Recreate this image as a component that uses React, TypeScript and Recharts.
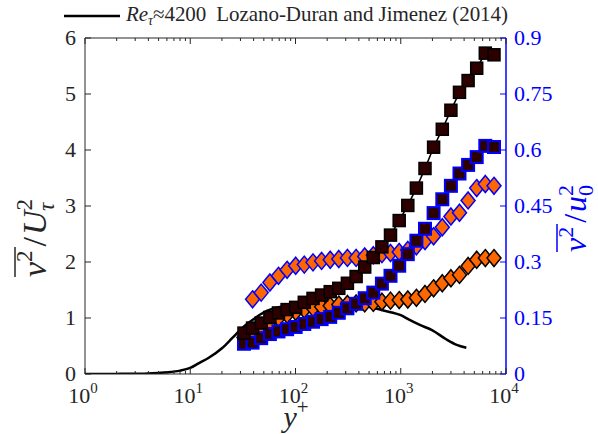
import React from 'react';
import { ComposedChart, XAxis, YAxis, Scatter, Line } from 'recharts';

const FONT = '"Liberation Serif"';
const AXIS = '#262626';
const BLUE = '#0000ff';
const ORANGE = '#ff6600';
const DARK = '#2d0000';

// Re_tau ~ 4200, Lozano-Duran and Jimenez (2014)
const ljYPlus = [1, 2, 3, 4, 5, 6, 8, 10, 12, 15, 20, 25, 30, 35, 40, 50, 60, 80, 100, 150, 200, 300, 400, 500, 700, 1000, 1200, 1500, 2000, 2700, 3400, 4200];
const ljV2 = [0, 0.002, 0.005, 0.01, 0.02, 0.03, 0.06, 0.11, 0.19, 0.29, 0.46, 0.64, 0.79, 0.9, 0.98, 1.1, 1.16, 1.22, 1.25, 1.27, 1.28, 1.27, 1.24, 1.2, 1.13, 1.05, 0.97, 0.88, 0.78, 0.62, 0.52, 0.47];

// experimental y+ stations
const expYPlus = [32.4, 39.1, 47.2, 57.1, 68.9, 83.2, 100.4, 121.2, 146.7, 177.0, 213.7, 257.8, 311.3, 376.6, 454.5, 548.6, 662.2, 799.1, 966.7, 1167, 1408, 1700, 2052, 2482, 2996, 3615, 4364, 5268, 6359, 7691];

// dark squares, black edge (left axis, v2/U_tau^2)
const darkSquaresV2 = [0.73, 0.82, 0.91, 1.01, 1.09, 1.15, 1.19, 1.28, 1.35, 1.41, 1.47, 1.53, 1.62, 1.74, 1.91, 2.08, 2.27, 2.48, 2.74, 3.01, 3.32, 3.67, 4.05, 4.37, 4.71, 5.03, 5.24, 5.46, 5.73, 5.7];

// dark squares, blue edge (right axis, v2/u0^2)
const blueSquaresV2u0 = [0.081, 0.084, 0.096, 0.107, 0.114, 0.12, 0.126, 0.134, 0.14, 0.147, 0.153, 0.164, 0.176, 0.188, 0.203, 0.218, 0.242, 0.263, 0.29, 0.321, 0.357, 0.389, 0.431, 0.468, 0.504, 0.537, 0.56, 0.581, 0.611, 0.608];

// orange diamonds, black edge (left axis)
const orangeDiamondsV2 = [0.65, 0.75, 0.85, 0.93, 1.0, 1.06, 1.11, 1.15, 1.18, 1.2, 1.22, 1.24, 1.25, 1.26, 1.26, 1.27, 1.29, 1.31, 1.32, 1.33, 1.36, 1.43, 1.53, 1.62, 1.71, 1.77, 1.93, 2.04, 2.07, 2.07];

// orange diamonds, blue edge (right axis)
const blueDiamondsYPlus = [39.1, 47.2, 57.1, 68.9, 83.2, 100.4, 121.2, 146.7, 177.0, 213.7, 257.8, 311.3, 376.6, 454.5, 548.6, 662.2, 799.1, 966.7, 1167, 1408, 1700, 2052, 2482, 2996, 3615, 4364, 5268, 6359, 7691];
const blueDiamondsV2u0 = [0.2, 0.218, 0.245, 0.263, 0.279, 0.29, 0.293, 0.299, 0.303, 0.306, 0.308, 0.311, 0.311, 0.315, 0.318, 0.321, 0.324, 0.327, 0.332, 0.342, 0.356, 0.369, 0.393, 0.422, 0.432, 0.465, 0.498, 0.509, 0.504];

const xTicks = [1, 2, 3, 4, 5, 6, 7, 8, 9, 10, 20, 30, 40, 50, 60, 70, 80, 90, 100, 200, 300, 400, 500, 600, 700, 800, 900, 1000, 2000, 3000, 4000, 5000, 6000, 7000, 8000, 9000, 10000];
const leftTicks = [0, 1, 2, 3, 4, 5, 6];
const rightTicks = [0, 0.15, 0.3, 0.45, 0.6, 0.75, 0.9];

const isMajor = (v: number) => Math.abs(Math.log10(v) - Math.round(Math.log10(v))) < 1e-9;

const txt = (size: number, italic = false) => ({
  fontFamily: FONT,
  fontSize: size,
  fontStyle: italic ? 'italic' : 'normal',
});

const BottomTick = (props: any) => {
  const { x, y, payload } = props;
  const v = payload.value;
  const major = isMajor(v);
  const e = Math.round(Math.log10(v));
  return (
    <g>
      <line x1={x} x2={x} y1={y} y2={y - (major ? 6 : 3)} stroke={AXIS} strokeWidth={1} />
      {major && (
        <text x={x - 2} y={y + 29} textAnchor="middle" style={txt(22)} fill={AXIS}>
          10<tspan dy={-10} style={txt(15)}>{e}</tspan>
        </text>
      )}
    </g>
  );
};

const TopTick = (props: any) => {
  const { x, y, payload } = props;
  const major = isMajor(payload.value);
  return <line x1={x} x2={x} y1={y} y2={y + (major ? 6 : 3)} stroke={AXIS} strokeWidth={1} />;
};

const LeftTick = (props: any) => {
  const { x, y, payload } = props;
  return (
    <g>
      <line x1={x} x2={x + 6} y1={y} y2={y} stroke={AXIS} strokeWidth={1} />
      <text x={x - 9} y={y + 7} textAnchor="end" style={txt(22)} fill={AXIS}>
        {payload.value}
      </text>
    </g>
  );
};

const RightTick = (props: any) => {
  const { x, y, payload } = props;
  return (
    <g>
      <line x1={x - 6} x2={x} y1={y} y2={y} stroke={BLUE} strokeWidth={1} />
      <text x={x + 8} y={y + 7} textAnchor="start" style={txt(22)} fill={BLUE}>
        {String(payload.value)}
      </text>
    </g>
  );
};

const LeftTitle = () => (
  <g transform="translate(46,222) rotate(-90)">
    <text x={-55} y={0} style={txt(34)} fill={AXIS}>
      <tspan style={txt(34, true)}>v</tspan>
      <tspan dy={-14} style={txt(23)}>2</tspan>
      <tspan dy={14} dx={4} style={txt(34)}>/</tspan>
      <tspan style={txt(34, true)} dx={2}>U</tspan>
      <tspan dy={-14} style={txt(23)}>2</tspan>
      <tspan dy={22} dx={-12} style={txt(23, true)}>τ</tspan>
    </text>
    <line x1={-55} x2={-25} y1={-31} y2={-31} stroke={AXIS} strokeWidth={1.5} />
  </g>
);

const RightTitle = () => (
  <g transform="translate(586,210) rotate(-90)">
    <text x={-42} y={0} style={txt(32)} fill={BLUE}>
      <tspan style={txt(32, true)}>v</tspan>
      <tspan dy={-13} style={txt(22)}>2</tspan>
      <tspan dy={13} dx={4} style={txt(32)}>/</tspan>
      <tspan style={txt(32, true)} dx={2}>u</tspan>
      <tspan dy={-13} style={txt(22)}>2</tspan>
      <tspan dy={20} dx={-11} style={txt(22)}>0</tspan>
    </text>
    <line x1={-42} x2={-14} y1={-29} y2={-29} stroke={BLUE} strokeWidth={1.5} />
  </g>
);

const XTitle = () => (
  <text x={296} y={427} textAnchor="middle" style={txt(30)} fill={AXIS}>
    <tspan style={txt(30, true)}>y</tspan>
    <tspan dy={-13} style={txt(21)}>+</tspan>
  </text>
);

const squareShape = (stroke: string, sw: number) => (props: any) => (
  <rect x={props.cx - 6} y={props.cy - 6} width={12} height={12} fill={DARK} stroke={stroke} strokeWidth={sw} />
);

const diamondShape = (stroke: string) => (props: any) => {
  const { cx, cy } = props;
  return (
    <polygon
      points={`${cx},${cy - 8.5} ${cx + 7},${cy} ${cx},${cy + 8.5} ${cx - 7},${cy}`}
      fill={ORANGE}
      stroke={stroke}
      strokeWidth={1.5}
    />
  );
};

const squareDot = (props: any) => (
  <rect key={`sq-${props.index}`} x={props.cx - 6} y={props.cy - 6} width={12} height={12} fill={DARK} stroke="#000" strokeWidth={1.5} />
);

export default function App() {
  const ljData = ljYPlus.map((x, i) => ({ x, y: ljV2[i] }));
  const darkData = expYPlus.map((x, i) => ({ x, y: darkSquaresV2[i] }));
  const blueSqData = expYPlus.map((x, i) => ({ x, y: blueSquaresV2u0[i] }));
  const orangeData = expYPlus.map((x, i) => ({ x, y: orangeDiamondsV2[i] }));
  const blueDiaData = blueDiamondsYPlus.map((x, i) => ({ x, y: blueDiamondsV2u0[i] }));

  return (
    <div style={{ position: 'absolute', left: 0, top: 0, width: 598, height: 434, background: '#fff' }}>
      <ComposedChart width={598} height={434} margin={{ top: 37, right: 32, bottom: 20, left: 25 }}>
        <XAxis
          xAxisId="b"
          dataKey="x"
          type="number"
          scale="log"
          domain={[1, 10000]}
          ticks={xTicks}
          interval={0}
          allowDataOverflow
          tickLine={false}
          tickSize={0}
          tickMargin={0}
          tick={<BottomTick />}
          height={40}
          stroke={AXIS}
          label={<XTitle />}
        />
        <XAxis
          xAxisId="t"
          orientation="top"
          dataKey="x"
          type="number"
          scale="log"
          domain={[1, 10000]}
          ticks={xTicks}
          interval={0}
          allowDataOverflow
          tickLine={false}
          tickSize={0}
          tickMargin={0}
          tick={<TopTick />}
          height={1}
          stroke={AXIS}
        />
        <YAxis
          yAxisId="l"
          dataKey="y"
          type="number"
          domain={[0, 6]}
          ticks={leftTicks}
          interval={0}
          allowDataOverflow
          tickLine={false}
          tickSize={0}
          tickMargin={0}
          tick={<LeftTick />}
          width={60}
          stroke={AXIS}
          label={<LeftTitle />}
        />
        <YAxis
          yAxisId="r"
          orientation="right"
          dataKey="y"
          type="number"
          domain={[0, 0.9]}
          ticks={rightTicks}
          interval={0}
          allowDataOverflow
          tickLine={false}
          tickSize={0}
          tickMargin={0}
          tick={<RightTick />}
          width={60}
          stroke={BLUE}
          strokeWidth={1.5}
          label={<RightTitle />}
        />
        <Scatter
          data={orangeData}
          xAxisId="b"
          yAxisId="l"
          dataKey="y"
          shape={diamondShape('#000')}
          isAnimationActive={false}
        />
        <Scatter
          data={blueDiaData}
          xAxisId="b"
          yAxisId="r"
          dataKey="y"
          shape={diamondShape(BLUE)}
          isAnimationActive={false}
        />
        <Line
          data={ljData}
          xAxisId="b"
          yAxisId="l"
          dataKey="y"
          type="monotone"
          stroke="#000"
          strokeWidth={2.5}
          dot={false}
          activeDot={false}
          isAnimationActive={false}
        />
        <Scatter
          data={blueSqData}
          xAxisId="b"
          yAxisId="r"
          dataKey="y"
          shape={squareShape(BLUE, 2)}
          isAnimationActive={false}
        />
        <Line
          data={darkData}
          xAxisId="b"
          yAxisId="l"
          dataKey="y"
          type="linear"
          stroke="#000"
          strokeWidth={1.6}
          dot={squareDot}
          activeDot={false}
          isAnimationActive={false}
        />
      </ComposedChart>
      <svg
        width={598}
        height={40}
        style={{ position: 'absolute', left: 0, top: 0, pointerEvents: 'none' }}
      >
        <line x1={64} x2={120} y1={16} y2={16} stroke="#000" strokeWidth={2.5} />
        <text x={126} y={21} style={txt(21)} fill={AXIS} textLength={382} lengthAdjust="spacing">
          <tspan style={txt(21, true)}>Re</tspan>
          <tspan dy={4} style={txt(14, true)}>τ</tspan>
          <tspan dy={-4} style={txt(21)}>≈4200</tspan>
          <tspan dx={10} style={txt(21)}>Lozano-Duran and Jimenez (2014)</tspan>
        </text>
      </svg>
    </div>
  );
}
